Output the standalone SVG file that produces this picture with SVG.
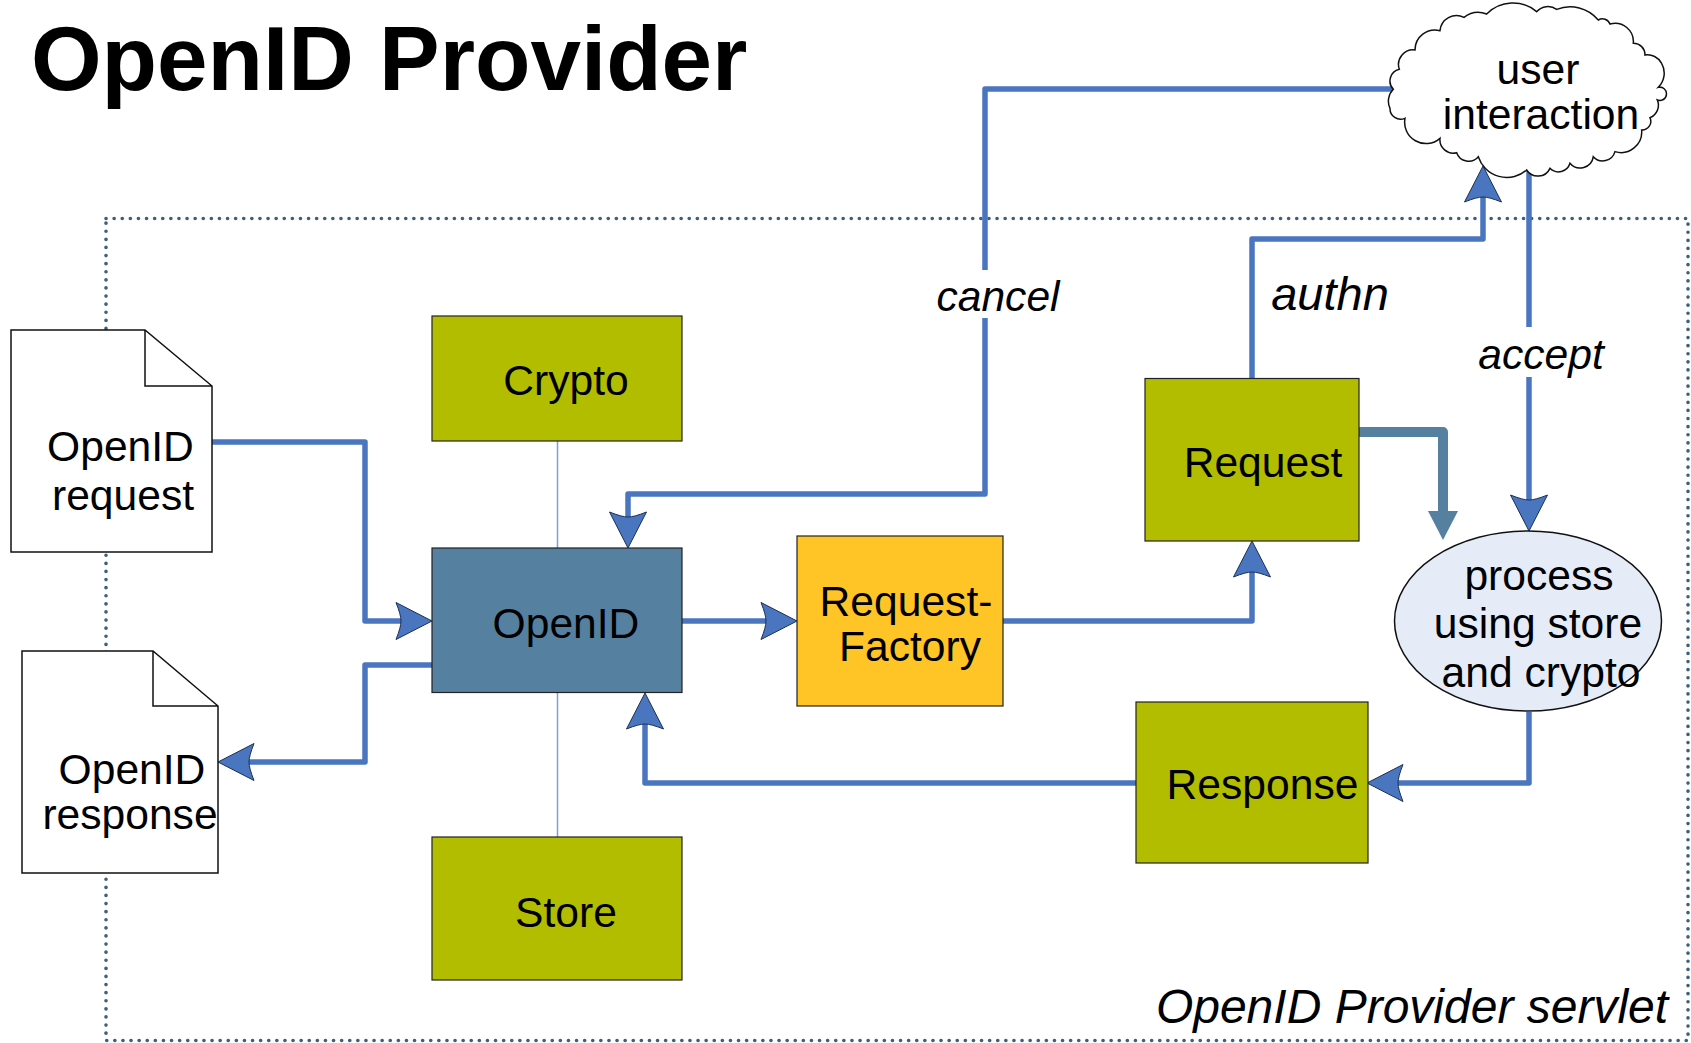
<svg xmlns="http://www.w3.org/2000/svg" width="1691" height="1043" viewBox="0 0 1691 1043">
<style>
text{font-family:"Liberation Sans",Arial,sans-serif;font-size:42.6px;fill:#000;text-anchor:middle}
.title{font-size:90.8px;font-weight:700;text-anchor:start}
.it{font-style:italic}
.box{stroke:#222;stroke-width:1.2}
.olive{fill:#b2bd00}
.doc{fill:#fff;stroke:#111;stroke-width:1.5;stroke-linejoin:miter}
.c{fill:none;stroke:#4a76c0;stroke-width:5.500;stroke-linejoin:round}
.a{marker-end:url(#ah)}
.mask{fill:#fff;stroke:none}
</style>
<defs>
<marker id="ah" markerUnits="userSpaceOnUse" markerWidth="56" markerHeight="44" viewBox="-38 -22 56 44" refX="-10" refY="0" orient="auto">
<path d="M0 0L-36 -18.500Q-31 -6 -31 0Q-31 6 -36 18.500Z" fill="#4a76c0" stroke="#1c2f55" stroke-width="1"/>
</marker>
<marker id="ht" markerUnits="userSpaceOnUse" markerWidth="60" markerHeight="36" viewBox="-30 -18 60 36" refX="-20" refY="0" orient="auto">
<path d="M0 0L-29 -15L-29 15Z" fill="#5580a0"/>
</marker>
</defs>
<rect id="servlet-boundary" x="106" y="218.500" width="1582" height="822" fill="none" stroke="#3e6078" stroke-width="3.600" stroke-dasharray="0.1 8" stroke-linecap="round"/>
<text class="title" x="31" y="90">OpenID Provider</text>
<text class="it" x="1412" y="1023" style="font-size:48px">OpenID Provider servlet</text>
<g id="connectors">
<path d="M557.500 441V548M557.500 692V837" fill="none" stroke="#7f9fd8" stroke-width="1.500"/>
<path class="c a" d="M212 442H365V621H422"/>
<path class="c a" d="M432 665H365V762H228"/>
<path class="c a" d="M682 621H787"/>
<path class="c a" d="M1001 621H1252V551"/>
<path class="c a" d="M1252 378V239H1483V176"/>
<path class="c a" d="M1529 170V521"/>
<path class="c a" d="M1393 89H985V494H628V538"/>
<path class="c a" d="M1529 712V783H1377"/>
<path class="c a" d="M1136 783H645V703"/>
<path d="M1359 432H1443V520" fill="none" stroke="#5580a0" stroke-width="10" stroke-linejoin="round" marker-end="url(#ht)"/>
</g>
<g id="label-cancel"><rect class="mask" x="930" y="270" width="130" height="48"/><text class="it" x="998" y="311">cancel</text></g>
<g id="label-authn"><text class="it" x="1330" y="310" style="font-size:47px">authn</text></g>
<g id="label-accept"><rect class="mask" x="1470" y="327" width="130" height="50"/><text class="it" x="1541" y="369">accept</text></g>
<g id="crypto"><rect class="box olive" x="432" y="316" width="250" height="125"/><text x="566" y="395">Crypto</text></g>
<g id="openid"><rect class="box" x="432" y="548" width="250" height="144.500" fill="#5580a0"/><text x="566" y="638">OpenID</text></g>
<g id="store"><rect class="box olive" x="432" y="837" width="250" height="143"/><text x="566" y="927">Store</text></g>
<g id="request-factory"><rect class="box" x="797" y="536" width="206" height="170" fill="#ffc425"/><text x="906" y="616">Request-</text><text x="910" y="661">Factory</text></g>
<g id="request"><rect class="box" x="1145" y="378.500" width="214" height="162.500" fill="#b2bd00"/><text x="1263" y="477">Request</text></g>
<g id="response"><rect class="box olive" x="1136" y="702" width="232" height="161"/><text x="1262.500" y="799">Response</text></g>
<g id="process"><ellipse cx="1528" cy="621" rx="133.500" ry="90" fill="#e6ecf7" stroke="#111" stroke-width="1.500"/><text x="1539" y="590">process</text><text x="1538" y="638">using store</text><text x="1541" y="687">and crypto</text></g>
<g id="doc-request"><path class="doc" d="M11 330H145L212 386V552H11ZM145 330V386H212"/><text x="120.500" y="461">OpenID</text><text x="123" y="510">request</text></g>
<g id="doc-response"><path class="doc" d="M22 651H153L218 706V873H22ZM153 651V706H218"/><text x="132" y="784">OpenID</text><text x="130" y="829">response</text></g>
<g id="user-interaction">
<path transform="translate(1340 0) scale(.3333)" d="M160 268A36 36 0 0 1 178 208A44 44 0 0 1 225 150A60 60 0 0 1 300 92A50 50 0 0 1 372 52A70 70 0 0 1 440 42A110 110 0 0 1 590 35A45 45 0 0 1 650 28A110 110 0 0 1 775 60A24 24 0 0 1 810 72A55 55 0 0 1 880 130A34 34 0 0 1 915 165A48 48 0 0 1 965 190A60 60 0 0 1 955 262A20 20 0 1 1 952 300A40 40 0 0 1 930 353A26 26 0 0 1 905 390A62 62 0 0 1 825 455A38 38 0 0 1 760 470A40 40 0 0 1 690 490A36 36 0 0 1 630 505A40 40 0 0 1 560 510A90 90 0 0 1 415 470A38 38 0 0 1 350 458A40 40 0 0 1 300 415A64 64 0 0 1 195 355A32 32 0 0 1 150 325A50 50 0 0 1 160 268Z" fill="#fff" stroke="#111" stroke-width="4.500"/>
<text x="1538" y="84">user</text><text x="1541" y="129">interaction</text></g>
</svg>
